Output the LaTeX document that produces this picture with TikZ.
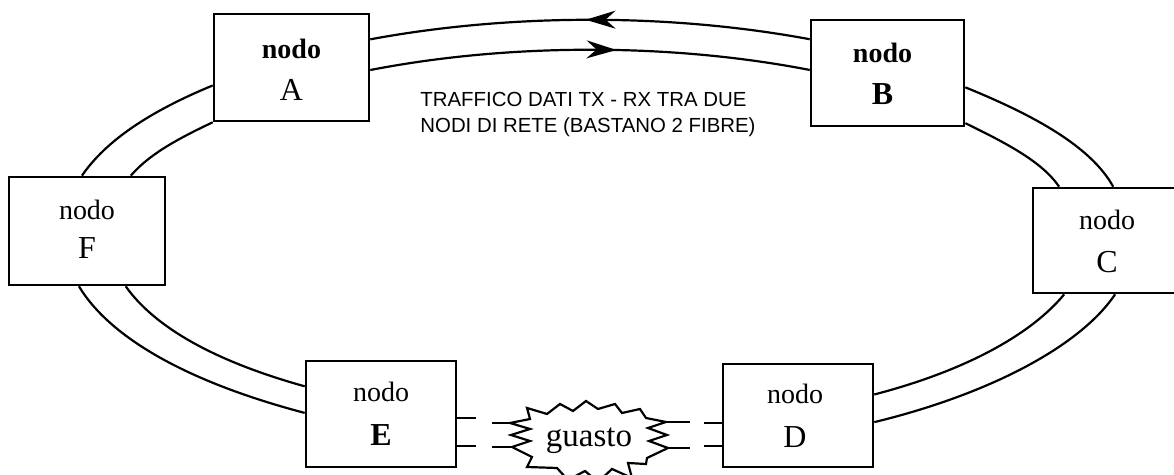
\documentclass[tikz,border=0pt]{standalone}
\usepackage{fontspec}
\setmainfont{Liberation Serif}
\newfontfamily\captionsans{Liberation Sans}
\usetikzlibrary{calc,arrows.meta,decorations.markings}
\tikzset{fibretip/.tip={Stealth[length=15pt,width=9pt,inset=5pt]}}

\begin{document}
\begin{tikzpicture}[x=0.5pt,y=-0.5pt,
  ringbox/.style={draw,line width=1.3pt,fill=white,inner sep=0pt},
  fibre/.style={line width=1.1pt},
  nodeword/.style={anchor=base,inner sep=0pt,font=\fontsize{14}{16}\selectfont},
  nodeletter/.style={anchor=base,inner sep=0pt,font=\fontsize{16}{18}\selectfont},
  burst/.style={draw,line width=1.1pt,fill=white,line join=miter}]
\useasboundingbox (0,0) rectangle (1174,475);
\clip (0,0) rectangle (1174,475);

% ring nodes
\node[ringbox,minimum width=77.5pt,minimum height=53.5pt] (A) at (291.5,67.5) {};
\node[ringbox,minimum width=76.5pt,minimum height=53pt]   (B) at (887.5,73) {};
\node[ringbox,minimum width=74pt,minimum height=52.5pt]   (C) at (1107,240.5) {};
\node[ringbox,minimum width=75pt,minimum height=51.5pt]   (D) at (798,415.5) {};
\node[ringbox,minimum width=75pt,minimum height=53pt]     (E) at (381,414) {};
\node[ringbox,minimum width=78pt,minimum height=54pt]     (F) at (87,231) {};

\node[nodeword] at ($(A.center)+(0,-9)$) {\bfseries nodo};
\node[nodeletter] at ($(A.center)+(0,33)$) {A};
\node[nodeword] at ($(B.center)+(-5,-10)$) {\bfseries nodo};
\node[nodeletter] at ($(B.center)+(-5,32)$) {\bfseries B};
\node[nodeword] at ($(C.center)+(0,-11)$) {nodo};
\node[nodeletter] at ($(C.center)+(0,32)$) {C};
\node[nodeword] at ($(D.center)+(-3,-12)$) {nodo};
\node[nodeletter] at ($(D.center)+(-3,32)$) {D};
\node[nodeword] at ($(E.center)+(0,-12.5)$) {nodo};
\node[nodeletter] at ($(E.center)+(0,31.5)$) {\bfseries E};
\node[nodeword] at ($(F.center)+(0,-11.5)$) {nodo};
\node[nodeletter] at ($(F.center)+(0,28)$) {F};

% fibre attachment points on the box borders
\coordinate (Ao)  at ($(A.north east)!0.243!(A.south east)$);
\coordinate (Ai)  at ($(A.north east)!0.523!(A.south east)$);
\coordinate (Bo)  at ($(B.north west)!0.189!(B.south west)$);
\coordinate (Bi)  at ($(B.north west)!0.472!(B.south west)$);
\coordinate (Alo) at ($(A.north west)!0.664!(A.south west)$);
\coordinate (Ali) at (A.south west);
\coordinate (Fto) at ($(F.north west)!0.468!(F.north east)$);
\coordinate (Fti) at ($(F.north west)!0.776!(F.north east)$);
\coordinate (Fbo) at ($(F.south west)!0.449!(F.south east)$);
\coordinate (Fbi) at ($(F.south west)!0.744!(F.south east)$);
\coordinate (Elo) at ($(E.north west)!0.49!(E.south west)$);
\coordinate (Eli) at ($(E.north west)!0.245!(E.south west)$);
\coordinate (Bro) at ($(B.north east)!0.632!(B.south east)$);
\coordinate (Bri) at ($(B.north east)!0.962!(B.south east)$);
\coordinate (Cto) at ($(C.north west)!0.541!(C.north east)$);
\coordinate (Cti) at ($(C.north west)!0.182!(C.north east)$);
\coordinate (Cbo) at ($(C.south west)!0.554!(C.south east)$);
\coordinate (Cbi) at ($(C.south west)!0.216!(C.south east)$);
\coordinate (Dro) at ($(D.north east)!0.563!(D.south east)$);
\coordinate (Dri) at ($(D.north east)!0.301!(D.south east)$);
\coordinate (Eri) at ($(E.north east)!0.538!(E.south east)$);
\coordinate (Ero) at ($(E.north east)!0.792!(E.south east)$);
\coordinate (Dli) at ($(D.north west)!0.573!(D.south west)$);
\coordinate (Dlo) at ($(D.north west)!0.786!(D.south west)$);

% A -- B: the two fibres, with the direction of traffic
\draw[fibre,postaction={decorate},decoration={markings,
      mark=at position 0.49 with {\arrowreversed{fibretip}}}]
  (Ao) .. controls ($(Ao)+(140,-26)$) and ($(Bo)+(-140,-26)$) .. (Bo);
\draw[fibre,postaction={decorate},decoration={markings,
      mark=at position 0.56 with {\arrow{fibretip}}}]
  (Ai) .. controls ($(Ai)+(139,-27)$) and ($(Bi)+(-139,-27)$) .. (Bi);

% A -- F
\draw[fibre] (Alo) .. controls ($(Alo)+(-63,26)$) and ($(Fto)+(24,-35)$) .. (Fto);
\draw[fibre] (Ali) .. controls ($(Ali)+(-36,17)$) and ($(Fti)+(18,-21)$) .. (Fti);
% F -- E
\draw[fibre] (Fbo) .. controls ($(Fbo)+(32,53)$) and ($(Elo)+(-114,-30)$) .. (Elo);
\draw[fibre] (Fbi) .. controls ($(Fbi)+(29,41)$) and ($(Eli)+(-90,-25)$) .. (Eli);
% B -- C
\draw[fibre] (Bro) .. controls ($(Bro)+(69,28)$) and ($(Cto)+(-22,-40)$) .. (Cto);
\draw[fibre] (Bri) .. controls ($(Bri)+(41,20)$) and ($(Cti)+(-17,-25)$) .. (Cti);
% C -- D
\draw[fibre] (Cbo) .. controls ($(Cbo)+(-35,52)$) and ($(Dro)+(115,-28)$) .. (Dro);
\draw[fibre] (Cbi) .. controls ($(Cbi)+(-33,40)$) and ($(Dri)+(92,-24)$) .. (Dri);

% E -- D: broken fibres
\draw[fibre] (Eri) -- ++(19,0);
\draw[fibre] (Ero) -- ++(19,0);
\draw[fibre] (Dli) -- ++(-18,0);
\draw[fibre] (Dlo) -- ++(-18,0);
\draw[fibre] (492,423) -- (510,423);
\draw[fibre] (492,447) -- (512,447);
\draw[fibre] (666,422) -- (690,422);
\draw[fibre] (668,448) -- (690,448);

% the fault
\draw[burst] (530,419) -- (527,408) -- (547,414) -- (560,404) -- (573,411)
  -- (586,401) -- (598,409) -- (615,404) -- (622,413) -- (640,409) -- (646,418)
  -- (666,422) -- (648,428) -- (667,435) -- (649,441) -- (668,448) -- (647,458)
  -- (646,464) -- (628,463) -- (632,478) -- (612,469) -- (598,482) -- (585,471)
  -- (568,480) -- (557,468) -- (527,467) -- (532,457)
  -- (512,447) -- (530,441) -- (511,435) -- (530,429) -- (510,423) -- cycle;
\node[anchor=base,inner sep=0pt,font=\fontsize{16.5}{18}\selectfont] (guasto) at (589,447) {guasto};

% caption
\node[anchor=north west,inner sep=0pt,align=left,
      font=\captionsans\fontsize{10.2}{13}\selectfont] (caption) at (420,92)
  {TRAFFICO DATI TX - RX TRA DUE\\NODI DI RETE (BASTANO 2 FIBRE)};
\end{tikzpicture}
\end{document}
